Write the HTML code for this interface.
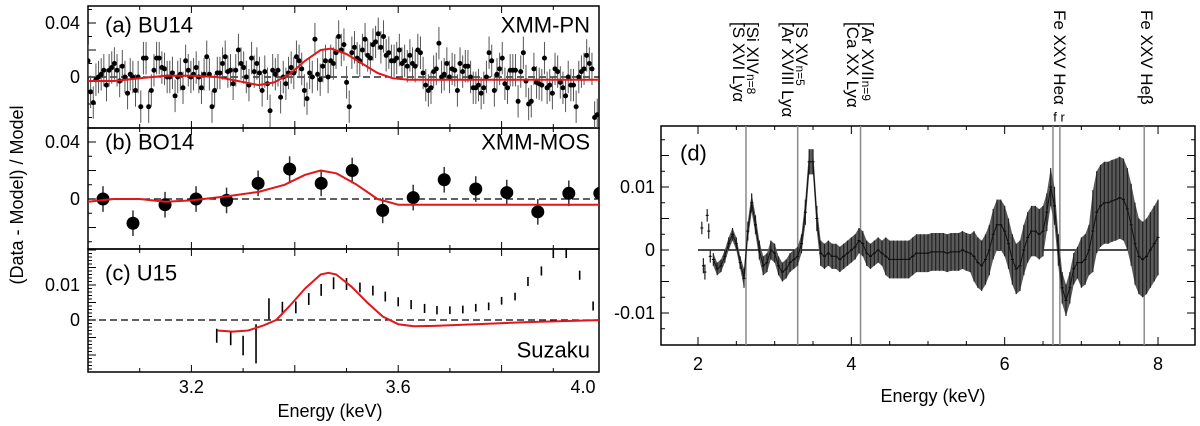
<!DOCTYPE html>
<html><head><meta charset="utf-8">
<style>
html,body{margin:0;padding:0;background:#fff;}
svg{display:block;font-family:"Liberation Sans",sans-serif;}
</style></head>
<body>
<svg id="fig" width="1200" height="426" viewBox="0 0 1200 426" xmlns="http://www.w3.org/2000/svg">
<defs>
<clipPath id="clipA"><rect x="88" y="6" width="511" height="122"/></clipPath>
<clipPath id="clipB"><rect x="88" y="128" width="511" height="121"/></clipPath>
<clipPath id="clipC"><rect x="88" y="249" width="511" height="123"/></clipPath>
<clipPath id="clipD"><rect x="661" y="126" width="534" height="219"/></clipPath>
</defs>
<g id="left"></g>
<g id="right"></g>
<text x="17" y="195" transform="rotate(-90 17 195)" text-anchor="middle" dominant-baseline="central" font-size="18">(Data - Model) / Model</text>
<text x="330" y="411" text-anchor="middle" dominant-baseline="central" font-size="18">Energy (keV)</text>
<text x="933" y="396" text-anchor="middle" dominant-baseline="central" font-size="18">Energy (keV)</text>
</svg>
<script>
// ---- Panel (a) XMM-PN data (units of 0.001) ----
const aStart = 3.0, aEnd = 3.985;
const aVals = [12,-11,-19,-2,0,2,5,-6,5,7,10,5,-3,8,0,-12,2,0,-10,0,-22,14,14,-22,-10,5,14,14,7,6,0,0,3,-14,0,2,-8,12,5,0,2,7,0,-8,2,15,2,-22,-10,3,3,10,15,4,5,-5,5,20,10,7,0,-6,14,4,10,3,-10,4,-5,-25,5,2,5,-15,0,-5,3,7,3,15,12,6,-10,-16,3,0,28,2,-2,8,12,0,12,10,18,30,20,24,-4,-22,18,22,14,12,20,28,16,14,24,26,32,22,30,16,18,12,12,14,20,10,12,8,16,10,8,20,18,3,-6,-10,-8,4,6,25,0,2,10,0,6,5,-10,10,4,8,8,0,-8,-8,-6,-12,-8,0,18,12,-10,2,6,14,-5,-8,5,5,5,-18,4,18,-3,-20,-18,6,-4,-5,-6,14,-8,-6,-12,6,4,-4,-8,-14,0,-6,-6,-22,0,4,6,16,10,6,-30,-28];
const aErr = 12;
const aModelE = [3.0,3.05,3.1,3.15,3.2,3.25,3.29,3.33,3.36,3.39,3.42,3.45,3.47,3.5,3.53,3.56,3.59,3.62,4.0];
const aModelV = [-3,-3,-1,1,1,0,-3,-6,-4,2,12,20,21,17,10,3,-1,-2,-2];
// ---- Panel (b) XMM-MOS ----
const bE = [3.029,3.087,3.149,3.209,3.268,3.329,3.39,3.451,3.511,3.57,3.629,3.689,3.75,3.81,3.87,3.93,3.99];
const bV = [0,-17,-4,0,-1,11,21,11,20,-8,1,13.5,7,4.5,-9,4,4];
const bErr = 9;
const bModelE = [3.0,3.05,3.1,3.15,3.2,3.27,3.33,3.38,3.42,3.45,3.48,3.52,3.56,3.6,3.65,4.0];
const bModelV = [-2,0,0,-2,-1,2,5,10,17,20,18,10,0,-4,-4,-4];
// ---- Panel (c) Suzaku ----
const cE = [3.249,3.276,3.30,3.325,3.35,3.376,3.402,3.427,3.451,3.475,3.5,3.526,3.551,3.575,3.6,3.625,3.651,3.675,3.70,3.725,3.75,3.775,3.8,3.826,3.851,3.877,3.9,3.925,3.951,3.977];
const cV = [-4.5,-5.2,-7.3,-6.8,3.2,3.5,3.6,6.0,8.6,10.5,10.3,9.3,8.4,6.7,5.2,4.4,3.3,2.8,2.8,3.0,3.5,3.9,5.5,6.7,11,14,19,19,12.8,4];
const cErr = [2,2,2.8,5.6,3,1.7,1.7,1.7,1.7,1.7,1.7,1.4,1.4,1.4,1.3,1.3,1.3,1.2,1.1,1.1,1.1,1.1,1.1,1.1,1.3,1.3,1.3,1.3,1.3,1.3];
const cModelE = [3.25,3.28,3.31,3.34,3.364,3.39,3.42,3.45,3.465,3.48,3.51,3.54,3.57,3.6,3.63,3.67,3.75,3.85,4.0];
const cModelV = [-3,-3.3,-3,-1.5,0,4,9,13,13.5,13,9.5,5,1,-1.2,-1.8,-1.7,-1.2,-0.6,0];
// ---- Panel (d) ----
const d1E = [2.05,2.07,2.09,2.12,2.14,2.16];
const d1V = [3.5,-2.5,-3.5,5.5,3,-1];
const d1H = [1,1.2,1.2,1,1.2,1];
const dStart = 2.2, dStep = 0.05;
const dV = [-1.5,-3,-2.5,-1,1,2.5,1,-2,-4.5,3,7.5,4,0,-2.5,-2,0,-0.5,-2.5,-3.5,-3,-2,-1.5,-1,1,6,14,14,5,-0.5,-1,-0.5,-1,-1,-1.5,-1,-0.5,0,0.5,1.5,1,-0.5,-1,-0.5,0,-0.5,-1,-1.5,-1.5,-1.5,-1.5,-1.5,-1.5,-1,-0.5,-0.5,-0.5,-0.5,-0.3,-0.3,-0.3,-0.3,-0.5,-0.3,-0.3,-0.3,0,-0.3,-0.5,-1,-2,-2.5,-1.5,0,2.5,4,4,3,1,-1.5,-3,-2.5,0,2,3,3,2.5,3,6,10,7,0,-6,-8,-6,-3,-2,-2,-1.5,0,3,6,7,7.5,7.5,7.8,8,8.3,8,6.5,4,1,-1,-1.5,-1,0,1,2];
const dH = [1,1,1,1,1,1,1,1,1.5,1.5,1.5,1.5,1.5,1.5,1.5,1.5,1.5,1.5,1.5,1.5,1.5,1.5,1.5,1.5,2,2,2,2,2,2,2,2,2,2,2,2,2,2,2,2,2,2,2,2,2,3,3,3,3,3,3,3,3,3,3,3,3,3,3,3,3,3,3,3,3,3,3,3,4,4,4,4,4,4,4,4,4,4,4,4,4,4,4,4,4,4,4,3,3,3,2.5,2.5,2.5,2.5,2.5,2.5,4,4,4,6.5,6.5,6.5,6.5,6.5,6.5,6.5,6.5,6.5,6.5,6.5,6.5,6,6,6,6,6,6];
const dLinesE = [2.626,3.30,4.12,6.63,6.72,7.82];

const NS = "http://www.w3.org/2000/svg";
function mk(parent, tag, attrs){ const e=document.createElementNS(NS,tag); for(const k in attrs) e.setAttribute(k,attrs[k]); parent.appendChild(e); return e; }
const L = document.getElementById('left');
const R = document.getElementById('right');
const xE = E => 88 + (E-3.0)*517;
const panels = [
 {key:'a', top:6, bot:128, y0:77, ppu:1.35, clip:'clipA', major:20, minor:10},
 {key:'b', top:128, bot:249, y0:199, ppu:1.425, clip:'clipB', major:20, minor:10},
 {key:'c', top:249, bot:372, y0:320, ppu:3.5, clip:'clipC', major:5, minor:1}
];
panels.forEach(p=>{
  const fr = mk(L,'rect',{x:88,y:p.top,width:511,height:p.bot-p.top,fill:'none',stroke:'#000','stroke-width':1.5});
  
  
  const yv = v => p.y0 - v*p.ppu;
  for(let v=-40; v<=60; v+=p.minor){
    const y=yv(v); if(y<p.top+1||y>p.bot-1) continue;
    const len = (v % p.major===0)?8:4;
    const t=mk(L,'line',{x1:88,x2:88+len,y1:y,y2:y,stroke:'#000','stroke-width':1});
    
    
  }
  for(let i=1;i<10;i++){
    const x=xE(3.0+i*0.1); const len=(i%4===0||i===2||i===6)?7:4;
    mk(L,'line',{x1:x,x2:x,y1:p.bot,y2:p.bot-len,stroke:'#000','stroke-width':1});
    mk(L,'line',{x1:x,x2:x,y1:p.top,y2:p.top+len,stroke:'#000','stroke-width':1});
  }
  const z=mk(L,'line',{x1:88,x2:599,y1:p.y0,y2:p.y0,stroke:'#000','stroke-width':1.3,'stroke-dasharray':'7,4'});
  
  
  p.yv=yv;
});
function ylab(x,y,t,name){ const e=mk(L,'text',{x:x,y:y,'text-anchor':'end','dominant-baseline':'central','font-size':18}); e.textContent=t;   }
ylab(80,panels[0].yv(40),'0.04','y-tick-label-a-004'); ylab(80,panels[0].yv(0),'0','y-tick-label-a-0');
ylab(80,panels[1].yv(40),'0.04','y-tick-label-b-004'); ylab(80,panels[1].yv(0),'0','y-tick-label-b-0');
ylab(80,panels[2].yv(10),'0.01','y-tick-label-c-001'); ylab(80,panels[2].yv(0),'0','y-tick-label-c-0');
[3.2,3.6,4.0].forEach(E=>{ const e=mk(L,'text',{x:Math.min(xE(E),583),y:387,'text-anchor':'middle','dominant-baseline':'central','font-size':18}); e.textContent=E.toFixed(1);   });
function lbl(x,y,t,anchor,name){ const e=mk(L,'text',{x:x,y:y,'text-anchor':anchor,'dominant-baseline':'central','font-size':22}); e.textContent=t;   }
lbl(105,25,'(a) BU14','start','panel-a-label'); lbl(590,25,'XMM-PN','end','instrument-a');
lbl(105,142,'(b) BO14','start','panel-b-label'); lbl(590,142,'XMM-MOS','end','instrument-b');
lbl(105,273,'(c) U15','start','panel-c-label'); lbl(590,350,'Suzaku','end','instrument-c');

const gA=mk(L,'g',{'clip-path':'url(#clipA)'});
 
aVals.forEach((v,i)=>{
  const E=aStart+i*(aEnd-aStart)/(aVals.length-1); const x=xE(E); const y=panels[0].yv(v);
  const l=mk(gA,'line',{x1:x,x2:x,y1:panels[0].yv(v-aErr),y2:panels[0].yv(v+aErr),stroke:'#555','stroke-width':1});
   
  const c=mk(gA,'circle',{cx:x,cy:y,r:2.5,fill:'#000'});
   
});
function modelPath(g,Es,Vs,p,name){
  const d=Es.map((E,i)=>(i?'L':'M')+xE(E).toFixed(1)+','+p.yv(Vs[i]).toFixed(1)).join(' ');
  const e=mk(g,'path',{d:d,fill:'none',stroke:'#e0181b','stroke-width':2,'stroke-linejoin':'round'});
   
}
modelPath(gA,aModelE,aModelV,panels[0],'model-a');
const gB=mk(L,'g',{'clip-path':'url(#clipB)'});
 
bE.forEach((E,i)=>{
  const x=xE(E),p=panels[1];
  const l=mk(gB,'line',{x1:x,x2:x,y1:p.yv(bV[i]-bErr),y2:p.yv(bV[i]+bErr),stroke:'#333','stroke-width':1.5});
   
  const c=mk(gB,'circle',{cx:x,cy:p.yv(bV[i]),r:6.5,fill:'#000'});
   
});
modelPath(gB,bModelE,bModelV,panels[1],'model-b');
const gC=mk(L,'g',{'clip-path':'url(#clipC)'});
 
cE.forEach((E,i)=>{
  const x=xE(E),p=panels[2];
  const l=mk(gC,'line',{x1:x,x2:x,y1:p.yv(cV[i]-cErr[i]),y2:p.yv(cV[i]+cErr[i]),stroke:'#000','stroke-width':1.6});
   
});
modelPath(gC,cModelE,cModelV,panels[2],'model-c');

// ---- Right panel d ----
const xd = E => 698 + (E-2)*76.67;
const yd = v => 250 - v*6.3;
const frD=mk(R,'rect',{x:661,y:126,width:534,height:219,fill:'none',stroke:'#000','stroke-width':1.5});
 
for(let k=0;k<=13;k++){ const E=1.5+k*0.5; const x=xd(E); if(x<662||x>1194) continue; const len=(E%2===0)?8:4;
  mk(R,'line',{x1:x,x2:x,y1:345,y2:345-len,stroke:'#000','stroke-width':1});
  mk(R,'line',{x1:x,x2:x,y1:126,y2:126+len,stroke:'#000','stroke-width':1}); }
for(let v=-15;v<=20;v+=2.5){ const y=yd(v); if(y<127||y>344) continue; const len=(v%5===0)?8:4;
  mk(R,'line',{x1:661,x2:661+len,y1:y,y2:y,stroke:'#000','stroke-width':1});
  mk(R,'line',{x1:1195,x2:1195-len,y1:y,y2:y,stroke:'#000','stroke-width':1}); }
[[10,'0.01'],[0,'0'],[-10,'-0.01']].forEach(([v,t])=>{ const e=mk(R,'text',{x:655,y:yd(v),'text-anchor':'end','dominant-baseline':'central','font-size':18}); e.textContent=t;   });
[2,4,6,8].forEach(E=>{ const e=mk(R,'text',{x:xd(E),y:364,'text-anchor':'middle','dominant-baseline':'central','font-size':18}); e.textContent=String(E);   });
const gD=mk(R,'g',{'clip-path':'url(#clipD)'});
dLinesE.forEach(E=>{ const l=mk(gD,'line',{x1:xd(E),x2:xd(E),y1:126,y2:345,stroke:'#8a8a8a','stroke-width':1.5});
    });
const zl=mk(gD,'line',{x1:xd(2),x2:xd(8),y1:yd(0),y2:yd(0),stroke:'#333','stroke-width':1.8});
 
// band outline drawn from the data arrays
let up='', lo='';
dV.forEach((v,i)=>{ const x=xd(dStart+i*dStep).toFixed(1); up+=(i?'L':'M')+x+','+yd(v+dH[i]).toFixed(1)+' '; });
for(let i=dV.length-1;i>=0;i--){ lo+='L'+xd(dStart+i*dStep).toFixed(1)+','+yd(dV[i]-dH[i]).toFixed(1)+' '; }
const band=mk(gD,'path',{d:up+lo+'Z',fill:'#5a5a5a',stroke:'none'});
 
function dbar(E,v,h){
  const x=xd(E);
  const l=mk(gD,'line',{x1:x,x2:x,y1:yd(v-h),y2:yd(v+h),stroke:'#222','stroke-width':1.2});
   
  const m=mk(gD,'line',{x1:x-1.5,x2:x+1.5,y1:yd(v),y2:yd(v),stroke:'#000','stroke-width':1});
   
}
d1E.forEach((E,i)=>dbar(E,d1V[i],d1H[i]));
dV.forEach((v,i)=>dbar(dStart+i*dStep,v,dH[i]));
const cl=mk(gD,'path',{d:dV.map((v,i)=>(i?'L':'M')+xd(dStart+i*dStep).toFixed(1)+','+yd(v).toFixed(1)).join(' '),fill:'none',stroke:'#111','stroke-width':1});
 
const dl=mk(R,'text',{x:680,y:153,'dominant-baseline':'central','font-size':22}); dl.textContent='(d)';
 
function rot(cx,ytop,parts,name){
  const x=cx-6;
  const t=mk(R,'text',{x:x,y:ytop,transform:'rotate(90 '+x+' '+ytop+')','font-size':17});
  parts.forEach(p=>{ const s=mk(t,'tspan',p.sub?{'font-size':12}:{}); s.textContent=p.t; });
   
}
rot(753,22,[{t:'[Si XIV'},{t:'n=8',sub:1}],'label-si-xiv');
rot(739,22,[{t:'[S XVI Lyα'}],'label-s-xvi');
rot(802,22,[{t:'[S XV'},{t:'n=5',sub:1}],'label-s-xv');
rot(788,22,[{t:'[Ar XVIII Lyα'}],'label-ar-xviii');
rot(868,22,[{t:'[Ar XVII'},{t:'n=9',sub:1}],'label-ar-xvii');
rot(853,22,[{t:'[Ca XX Lyα'}],'label-ca-xx');
rot(1060,10,[{t:'Fe XXV Heα'}],'label-fe-xxv-he-alpha');
rot(1147,10,[{t:'Fe XXV Heβ'}],'label-fe-xxv-he-beta');
const fr2=mk(R,'text',{x:1059,y:117,'text-anchor':'middle','dominant-baseline':'central','font-size':13}); fr2.textContent='f r';
 
</script>
</body></html>
